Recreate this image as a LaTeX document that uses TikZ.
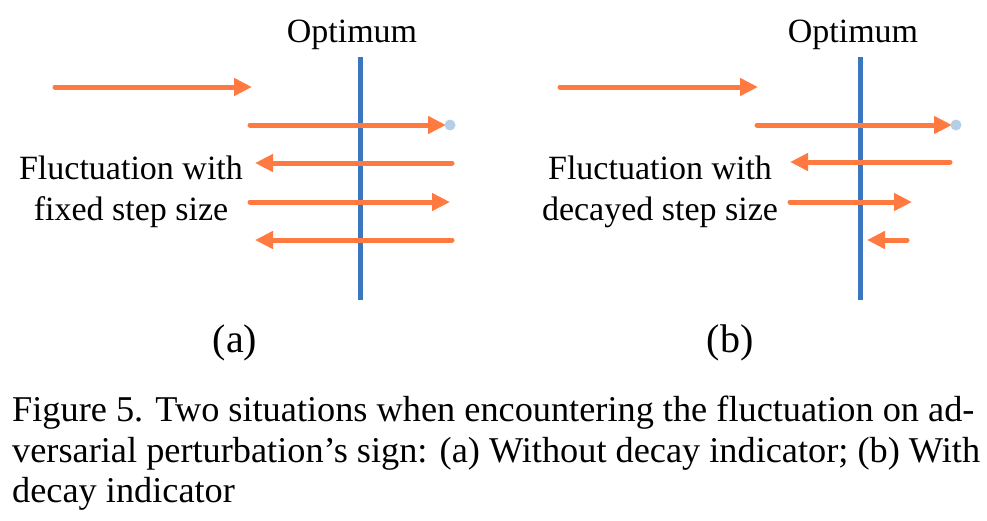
\documentclass[tikz,border=0pt]{standalone}
\usepackage{fontspec}
\setmainfont{Liberation Serif}
\usetikzlibrary{arrows.meta}
\definecolor{stepor}{HTML}{FF7A40}
\definecolor{optblue}{HTML}{3B76C0}
\definecolor{dotblue}{HTML}{B4D0E8}
\tikzset{
  stepline/.style={stepor,line width=5pt,line cap=round,-{Triangle[length=18pt,width=17pt]}},
  optline/.style={optblue,line width=5pt},
  lbl/.style={font=\fontsize{34}{40}\selectfont,inner sep=0pt,anchor=base},
  sublbl/.style={font=\fontsize{40}{46}\selectfont,inner sep=0pt,anchor=base},
  captxt/.style={font=\fontsize{36.3}{42}\selectfont,inner sep=0pt,anchor=base west}
}
\begin{document}
\begin{tikzpicture}[x=1pt,y=-1pt]
  \useasboundingbox (0,0) rectangle (987,520);
  % panel (a)
  \node[lbl] (opta) at (352,42) {Optimum};
  \coordinate (ta) at (360,57);
  \coordinate (ba) at (360,300);
  \draw[optline] (ta) -- (ba);
  \foreach \i/\xa/\xb/\y in {1/55/252/87,2/250/446/125,3/452/255/163,4/250/450/202,5/452/255/240}{
    \coordinate (a\i s) at (\xa,\y);
    \coordinate (a\i e) at (\xb,\y);
    \draw[stepline] (a\i s) -- (a\i e);
  }
  \fill[dotblue] (450,125) circle (5.5pt);
  \node[lbl] (fla) at (131,179) {Fluctuation with};
  \node[lbl] (fxa) at (131,220) {fixed step size};
  \node[sublbl] (suba) at (235,352) {(a)};
  % panel (b)
  \node[lbl] (optb) at (853,42) {Optimum};
  \coordinate (tb) at (860,57);
  \coordinate (bb) at (860,300);
  \draw[optline] (tb) -- (bb);
  \foreach \i/\xa/\xb/\y in {1/560/758/87,2/757/952/125,3/950/790/162,4/790/912/202,5/907/867/240}{
    \coordinate (b\i s) at (\xa,\y);
    \coordinate (b\i e) at (\xb,\y);
    \draw[stepline] (b\i s) -- (b\i e);
  }
  \fill[dotblue] (956,125) circle (5.5pt);
  \node[lbl] (flb) at (660,179) {Fluctuation with};
  \node[lbl] (dcb) at (660,220) {decayed step size};
  \node[sublbl] (subb) at (730,352) {(b)};
  % caption
  \node[captxt] (c1) at (12,421) {Figure 5. Two situations when encountering the fluctuation on ad-};
  \node[captxt] (c2) at (12,462) {versarial perturbation’s sign: (a) Without decay indicator; (b) With};
  \node[captxt] (c3) at (12,502) {decay indicator};
\end{tikzpicture}
\end{document}
